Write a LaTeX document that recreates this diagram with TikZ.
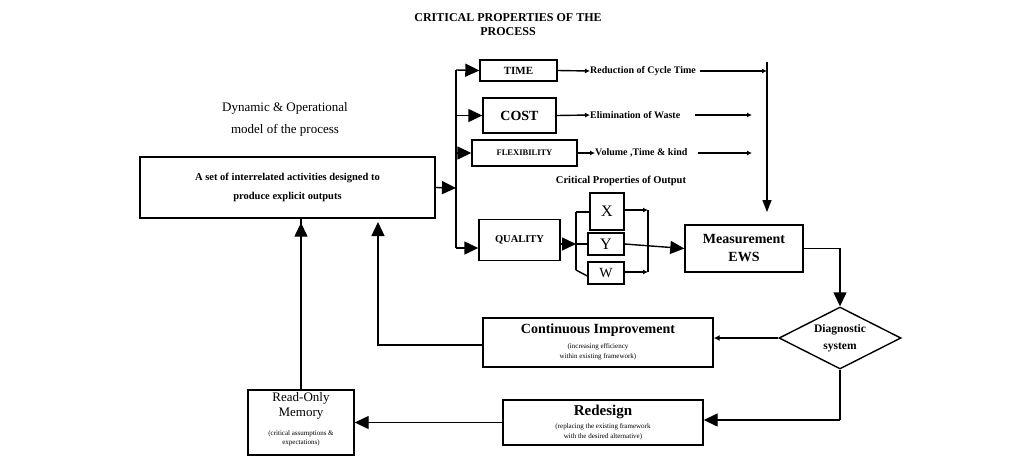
\documentclass[tikz,border=0pt]{standalone}
\usepackage{fontspec}
\setmainfont{Liberation Serif}
\usetikzlibrary{arrows.meta,shapes.geometric}
\begin{document}
\begin{tikzpicture}[x=1pt,y=-1pt,
 bx/.style={draw,line width=1.4pt,inner sep=0pt},
 ln/.style={line width=1.4pt},
 big/.style={ln,-{Triangle[length=14pt,width=13pt]}},
 sm/.style={ln,-{Latex[length=5pt,width=5pt]}},
 lab/.style={font=\bfseries\fontsize{10}{12}\selectfont,anchor=west,inner sep=0pt}]
\useasboundingbox (0,0) rectangle (1010,467);
\node[font=\bfseries\fontsize{12}{14}\selectfont,align=center] (title) at (508,25) {CRITICAL PROPERTIES OF THE\\PROCESS};
\node[font=\fontsize{13}{22}\selectfont,align=center] (dyn) at (285,119) {Dynamic \& Operational\\model of the process};
\node[bx,minimum width=295,minimum height=61,align=center,font=\bfseries\fontsize{10.5}{19}\selectfont] (main) at (287.5,187.5) {A set of interrelated activities designed to\\produce explicit outputs};
\coordinate (j) at (456,188);
\coordinate (vt) at (456,70);
\coordinate (vb) at (456,248);
\draw[big] (main.east) -- (j);
\draw[ln] (vt) -- (vb);
\node[bx,minimum width=77,minimum height=21,font=\bfseries\fontsize{11}{13}\selectfont] (time) at (518.5,70.5) {TIME};
\node[bx,minimum width=73,minimum height=35,font=\bfseries\fontsize{14}{16}\selectfont] (cost) at (519.5,115.5) {COST};
\node[bx,minimum width=105,minimum height=26,font=\bfseries\fontsize{8.5}{10}\selectfont] (flex) at (524.5,153) {FLEXIBILITY};
\node[bx,minimum width=81,minimum height=41,font=\bfseries\fontsize{10.5}{12}\selectfont] (qual) at (519.5,240) {QUALITY};
\draw[big] (vt) -- (time.west);
\draw[big] (456,115.5) -- (cost.west);
\draw[big] (456,153) -- (flex.west);
\draw[big] (vb) -- (qual.west|-vb);
\node[lab] (t1) at (590,71) {Reduction of Cycle Time};
\node[lab] (t2) at (590,115) {Elimination of Waste};
\node[lab] (t3) at (595,153) {Volume ,Time \& kind};
\draw[sm] (time.east) -- (t1.west);
\draw[sm] (cost.east) -- (t2.west);
\draw[sm] (flex.east) -- (t3.west);
\coordinate (rt) at (767,62);
\coordinate (rb) at (767,212);
\coordinate (a1) at (767,71);
\coordinate (a2) at (752,115);
\coordinate (a3) at (752,153);
\draw[sm] ([xshift=4]t1.east) -- (a1);
\draw[sm] ([xshift=15]t2.east) -- (a2);
\draw[sm] ([xshift=10]t3.east) -- (a3);
\draw[ln,-{Triangle[length=12pt,width=9pt]}] (rt) -- (rb);
\node[font=\bfseries\fontsize{10.5}{12}\selectfont] (cpo) at (621,181) {Critical Properties of Output};
\node[bx,minimum width=34,minimum height=37,font=\fontsize{16}{18}\selectfont] (X) at (607,211.5) {X};
\node[bx,minimum width=36,minimum height=22,font=\fontsize{16}{18}\selectfont] (Y) at (606,244) {Y};
\node[bx,minimum width=36,minimum height=22,font=\fontsize{14}{16}\selectfont] (W) at (606,273) {W};
\coordinate (bt) at (576,212);
\coordinate (bb) at (576,270);
\draw[ln] (bt) -- (bb);
\draw[big] (qual.east|-Y) -- (576,244);
\draw[ln] (bt) -- (X.west|-bt);
\draw[ln] (576,244) -- (Y.west);
\draw[ln] (bb) -- ([yshift=-3]W.west);
\coordinate (rt2) at (648,210);
\coordinate (rb2) at (648,272);
\draw[ln] (rt2) -- (rb2);
\draw[sm] (X.east|-rt2) -- (rt2);
\draw[sm] (W.east|-rb2) -- (rb2);
\node[bx,minimum width=118,minimum height=47,align=center,font=\bfseries\fontsize{14}{18}\selectfont] (ews) at (744,248.5) {Measurement\\EWS};
\draw[big] (Y.east) -- (ews.west);
\node[draw,line width=1.4pt,diamond,aspect=2,minimum width=122,minimum height=62,inner sep=0pt,align=center,font=\bfseries\fontsize{11.5}{17}\selectfont] (diag) at (840,338) {Diagnostic\\system};
\draw[big] (ews.east) -| (diag.north);
\node[bx,minimum width=230,minimum height=49] (ci) at (598,342.5) {};
\node[font=\bfseries\fontsize{14}{16}\selectfont] (cit) at (598,330) {Continuous Improvement};
\node[font=\fontsize{7}{10}\selectfont,align=center] (cis) at (598,352) {(increasing efficiency\\within existing framework)};
\draw[ln,-{Latex[length=6pt,width=6pt]}] (diag.west) -- (ci.east|-diag.west);
\node[bx,minimum width=200,minimum height=45] (rd) at (603,422.5) {};
\node[font=\bfseries\fontsize{15}{17}\selectfont] (rdt) at (603,412) {Redesign};
\node[font=\fontsize{7}{10}\selectfont,align=center] (rds) at (603,432) {(replacing the existing framework\\with the desired alternative)};
\coordinate (d1) at (840,420);
\draw[ln] (diag.south) -- (d1);
\draw[big] (d1) -- (rd.east|-d1);
\node[bx,minimum width=106,minimum height=65] (rom) at (301,422.5) {};
\node[font=\fontsize{13}{15}\selectfont,align=center] (romt) at (301,406) {Read-Only\\Memory};
\node[font=\fontsize{7}{9}\selectfont,align=center] (roms) at (301,438) {(critical assumptions \&\\expectations)};
\draw[big] (rd.west|-rom) -- (rom.east);
\draw[big] (rom.north) -- (rom.north|-main.south) ++(0,4);
\coordinate (c1) at (378,345);
\draw[big] (ci.west|-c1) -- (c1) -- (378,222);
\end{tikzpicture}
\end{document}
